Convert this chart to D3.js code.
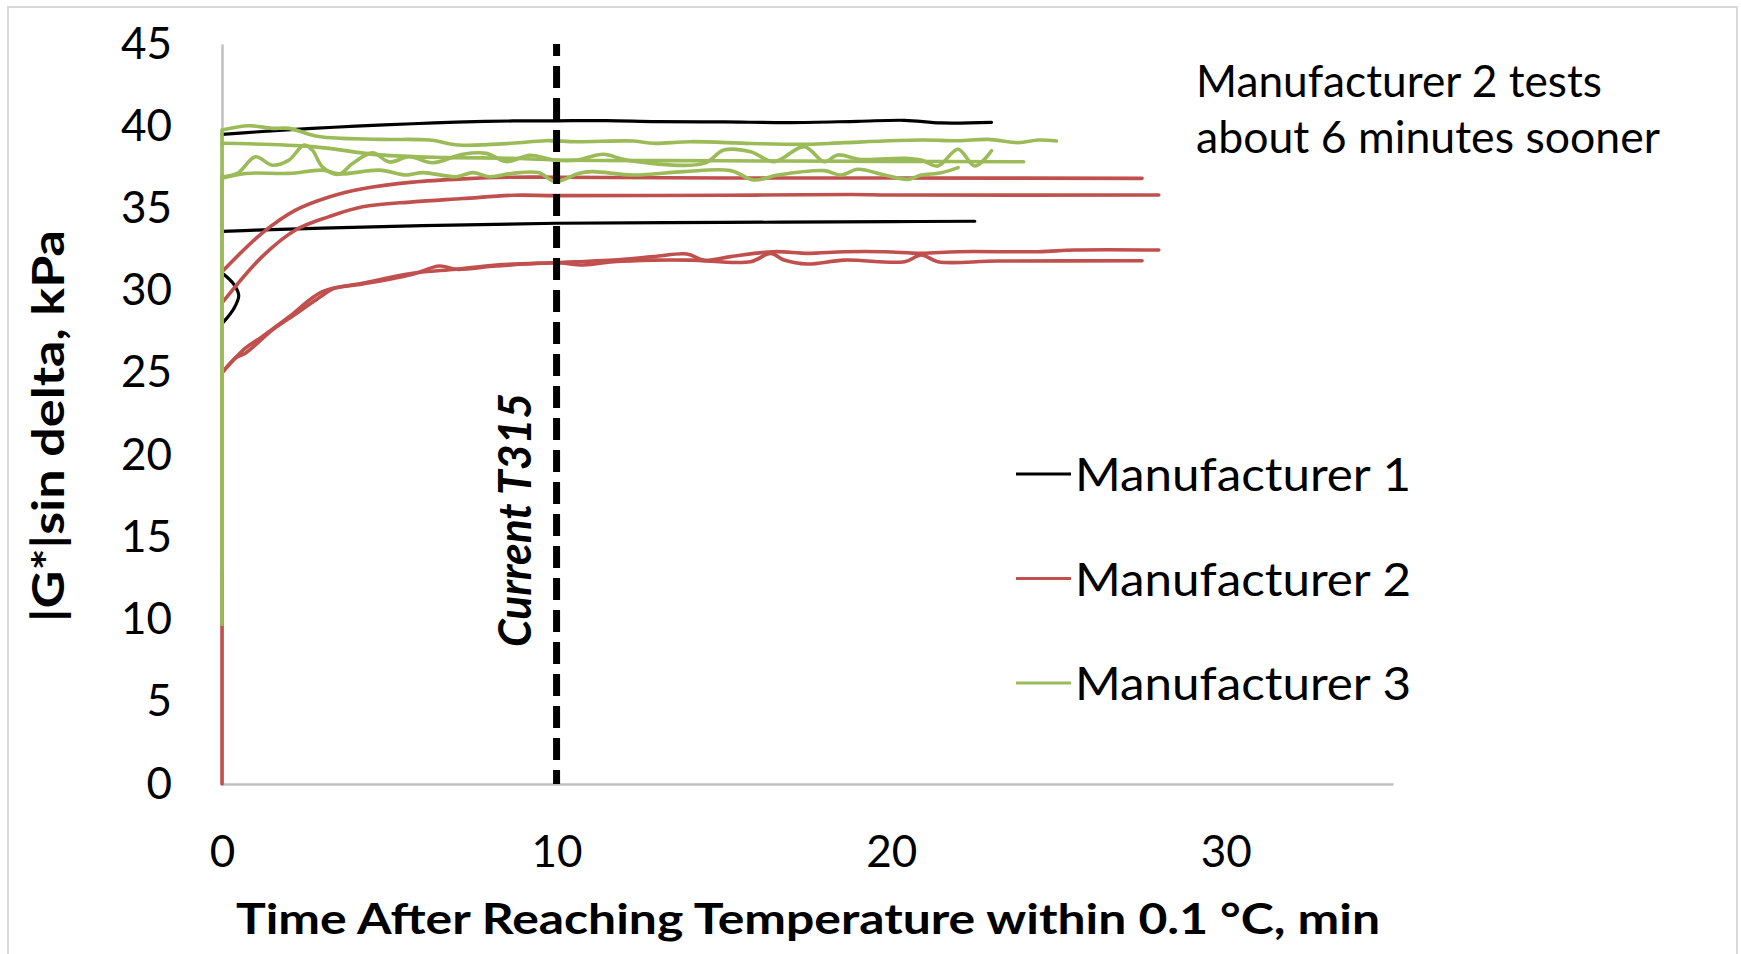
<!DOCTYPE html>
<html>
<head>
<meta charset="utf-8">
<script src="https://cdn.jsdelivr.net/npm/d3@7"></script>
<style>
  body { margin: 0; background: #fff; }
  text { font-family: Lato, "Open Sans", sans-serif; fill: #000; }
</style>
</head>
<body>
<svg id="chart" width="1741" height="954"></svg>
<script>
// values: [minutes, kPa]
const m1a = [[0,39.5],[1,39.65],[2.7,39.87],[4,40.0],[5.7,40.15],[7,40.25],[8.7,40.32],[10,40.33],[11.5,40.34],[13,40.28],[15,40.26],[17,40.22],[19,40.3],[20.4,40.36],[21.5,40.2],[23,40.24]];
const m1b = [[0,33.6],[1,33.68],[3,33.8],[6,33.95],[10,34.1],[15,34.15],[20,34.2],[22.5,34.22]];
const m1c = [[0.05,31.0],[0.35,30.4],[0.5,29.7],[0.35,28.9],[0.05,28.1]];

const m2a = [[0,31.15],[1.2,33.5],[2.2,34.9],[3.2,35.7],[4.2,36.2],[5.7,36.6],[7.2,36.8],[8.7,36.9],[10,36.9],[15,36.85],[20,36.85],[27.5,36.83]];
const m2b = [[0,29.25],[1.2,32.07],[2.2,33.69],[3.2,34.5],[4.2,35.1],[5.7,35.4],[7.2,35.6],[8.7,35.8],[10,35.78],[15,35.8],[18.8,35.85],[20,35.82],[28,35.82]];
const m2c = [[0,0],[0,25.0],[0.7,26.5],[1.2,27.2],[2.0,28.4],[3.0,29.94],[4.2,30.45],[5.7,31.06],[7.0,31.3],[8.2,31.56],[10,31.7],[10.6,31.76],[11.7,31.86],[12.9,32.07],[13.9,32.23],[14.4,31.86],[15.2,32.07],[16.5,32.37],[17.5,32.27],[18.6,32.37],[19.8,32.37],[20.9,32.27],[22,32.37],[24.4,32.37],[25.5,32.47],[28,32.47]];
const m2d = [[0,25.0],[0.4,25.9],[0.7,26.2],[1.0,26.7],[1.5,27.6],[2.0,28.3],[3.0,29.7],[3.3,30.1],[4.2,30.4],[5.7,31.0],[6.5,31.5],[7.0,31.3],[8.2,31.5],[10,31.7],[10.8,31.56],[11.7,31.76],[12.9,31.86],[14,31.86],[15.8,31.76],[16.4,32.27],[16.8,31.86],[17.5,31.62],[18.6,31.86],[20.4,31.76],[20.9,32.17],[21.4,31.76],[23.2,31.8],[27.5,31.82]];

const m3a = [[0,9.7],[0,39.77],[0.8,40.03],[1.5,39.87],[2.0,39.87],[2.9,39.37],[4.7,39.2],[6.2,39.16],[7.07,38.86],[8.66,38.96],[9.66,39.12],[10.6,39.06],[12.3,39.1],[12.9,38.96],[14.0,39.06],[15.8,38.95],[17.5,38.9],[18.6,39.0],[20.9,39.16],[22.0,39.12],[22.9,39.2],[23.8,39.0],[24.4,39.16],[24.94,39.1]];
const m3b = [[0,38.96],[2.7,38.76],[4.7,38.26],[6.7,38.1],[8.66,38.05],[10,37.95],[15,37.9],[20,37.86],[23.96,37.84]];
const m3c = [[0,12.9],[0,36.93],[0.46,37.13],[1.0,38.14],[1.5,37.63],[2.0,37.94],[2.45,38.85],[2.7,38.55],[3.0,37.53],[3.5,37.08],[3.9,37.73],[4.5,38.38],[5.0,37.83],[5.6,38.14],[6.3,37.78],[7.2,38.3],[7.9,38.35],[8.5,37.85],[9.2,38.23],[9.93,37.95],[10.6,37.94],[11.4,38.3],[12.1,37.94],[14.4,37.74],[15.0,38.55],[15.8,38.45],[16.5,37.84],[17.4,38.76],[18.0,37.84],[18.4,38.25],[19.1,37.98],[20.4,38.05],[20.9,37.94],[21.4,37.58],[22.0,38.6],[22.5,37.58],[23.0,38.51]];
const m3d = [[0,36.83],[0.7,37.13],[2.0,37.13],[3.0,37.33],[3.5,37.1],[4.7,37.33],[5.5,37.03],[6.0,37.18],[7.0,36.93],[7.5,37.18],[8.0,36.93],[8.66,37.13],[9.46,37.18],[9.96,36.63],[10.65,37.13],[11.06,37.24],[12.3,37.03],[13.8,37.24],[15.2,37.3],[15.9,36.73],[16.6,37.03],[18.0,37.3],[18.5,37.03],[19.0,37.38],[19.8,37.03],[20.5,36.77],[20.9,37.03],[21.5,37.17],[22.0,37.48]];

const manufacturers = ["Manufacturer 1", "Manufacturer 2", "Manufacturer 3"];
const tests = [[m1a, m1b, m1c], [m2a, m2b, m2c, m2d], [m3a, m3b, m3c, m3d]];
const colors = ["#000000", "#C0504D", "#9BBB59"];
const xTicks = [0, 10, 20, 30];
const yTicks = [0, 5, 10, 15, 20, 25, 30, 35, 40, 45];
const currentT315 = 10;
const note = ["Manufacturer 2 tests", "about 6 minutes sooner"];

const svg = d3.select("#chart");

// light frame round the chart
svg.append("rect")
    .attr("x", 8).attr("y", 7)
    .attr("width", 1729).attr("height", 960)
    .attr("fill", "#fff")
    .attr("stroke", "#d9d9d9")
    .attr("stroke-width", 2);

const x = d3.scaleLinear().domain([0, 35]).range([222, 1393]);
const y = d3.scaleLinear().domain([0, 45]).range([784, 44]);

const xAxis = svg.append("g")
    .attr("transform", `translate(0,${y(0)})`)
    .call(d3.axisBottom(x).tickValues(xTicks).tickSizeInner(0).tickSizeOuter(0).tickPadding(52));
const yAxis = svg.append("g")
    .attr("transform", `translate(${x(0)},0)`)
    .call(d3.axisLeft(y).tickValues(yTicks).tickSizeInner(0).tickSizeOuter(0).tickPadding(50));

[xAxis, yAxis].forEach(a => {
    a.select(".domain").attr("stroke", "#bfbfbf").attr("stroke-width", 2.5);
    a.selectAll("text").style("font-size", "44px").style("font-family", "Lato, sans-serif").attr("fill", "#000");
});

const smooth = d3.line()
    .x(d => x(d[0]))
    .y(d => y(d[1]))
    .curve(d3.curveCatmullRom.alpha(0.5));
const straight = d3.line()
    .x(d => x(d[0]))
    .y(d => y(d[1]));

// a test that climbs at time 0 gets a straight lead-in, the rest is smoothed
function testPath(d) {
    if (d.length > 2 && d[0][0] === d[1][0]) {
        return straight(d.slice(0, 2)) + smooth(d.slice(1)).replace(/^M/, "L");
    }
    return smooth(d);
}

tests.forEach((group, i) => {
    svg.append("g").selectAll("path")
        .data(group)
        .enter()
        .append("path")
        .attr("d", testPath)
        .attr("fill", "none")
        .attr("stroke", colors[i])
        .attr("stroke-width", i === 0 ? 3.2 : 3.6)
        .attr("stroke-linejoin", "round")
        .attr("stroke-linecap", "round");
});

// dashed marker at the current T315 time
svg.append("line")
    .attr("x1", x(currentT315)).attr("x2", x(currentT315))
    .attr("y1", y(45)).attr("y2", y(0))
    .attr("stroke", "#000")
    .attr("stroke-width", 7)
    .attr("stroke-dasharray", "22,10")
    .attr("stroke-dashoffset", 10);

svg.append("text")
    .attr("transform", `translate(531,520) rotate(-90)`)
    .attr("text-anchor", "middle")
    .attr("textLength", 254)
    .attr("lengthAdjust", "spacingAndGlyphs")
    .style("font-size", "46px")
    .style("font-weight", "bold")
    .style("font-style", "italic")
    .text("Current T315");

// axis titles
svg.append("text")
    .attr("x", 236).attr("y", 934)
    .attr("textLength", 1144)
    .attr("lengthAdjust", "spacingAndGlyphs")
    .style("font-size", "42px")
    .style("font-weight", "bold")
    .text("Time After Reaching Temperature within 0.1 °C, min");

svg.append("text")
    .attr("transform", "translate(64,426) rotate(-90)")
    .attr("text-anchor", "middle")
    .attr("textLength", 392)
    .attr("lengthAdjust", "spacingAndGlyphs")
    .style("font-size", "44px")
    .style("font-weight", "bold")
    .text("|G*|sin delta, kPa");

// note at top right
svg.append("g").selectAll("text")
    .data(note)
    .enter()
    .append("text")
    .attr("x", 1196)
    .attr("y", (d, i) => 97 + i * 56)
    .attr("textLength", (d, i) => i === 0 ? 406 : 464)
    .attr("lengthAdjust", "spacingAndGlyphs")
    .style("font-size", "44px")
    .text(d => d);

// legend
const legend = svg.append("g").selectAll("g")
    .data(manufacturers)
    .enter()
    .append("g")
    .attr("transform", (d, i) => `translate(0,${474 + i * 104.5})`);

legend.append("line")
    .attr("x1", 1016).attr("x2", 1071)
    .attr("stroke", (d, i) => colors[i])
    .attr("stroke-width", 3);

legend.append("text")
    .attr("x", 1075).attr("y", 17)
    .attr("textLength", 336)
    .attr("lengthAdjust", "spacingAndGlyphs")
    .style("font-size", "46px")
    .text(d => d);
</script>
</body>
</html>
